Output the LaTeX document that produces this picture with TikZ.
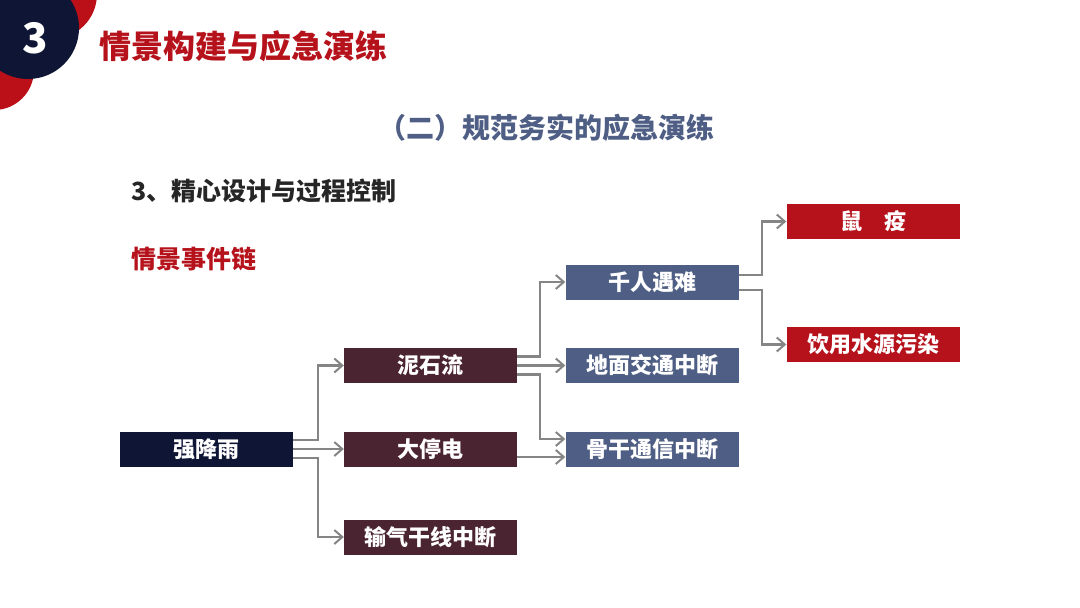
\documentclass[tikz,border=0pt]{standalone}
\usepackage{fontspec}
\setmainfont{Noto Sans CJK SC}
\usetikzlibrary{arrows.meta}
\definecolor{navy}{HTML}{0F1535}
\definecolor{maroon}{HTML}{4A2430}
\definecolor{slate}{HTML}{4E5E84}
\definecolor{alarm}{HTML}{B5121B}
\definecolor{linkgray}{HTML}{858585}
\tikzset{
  event/.style={minimum width=173pt, minimum height=35pt, inner sep=0pt,
    text=white, font=\fontsize{22}{22}\selectfont\bfseries},
  link/.style={draw=linkgray, line width=2.2pt,
    -{Straight Barb[length=8pt,width=14pt,line width=2pt]}}
}
\begin{document}
\begin{tikzpicture}[x=1pt,y=-1pt]
            %page
            \fill[white] (0,0) rectangle (1080,608);
            \useasboundingbox (0,0) rectangle (1080,608);
            %corner badge
            \fill[alarm!90!red] (52,-6) circle [radius=45];
            \fill[alarm!90!red] (-6,70) circle [radius=40];
            \fill[navy] (28,28) circle [radius=51];
            \node[text=white, font=\fontsize{42}{42}\selectfont\bfseries] (badge) at (35,38) {3};
            %titles
            \node[anchor=west, text=alarm, font=\fontsize{32}{32}\selectfont\bfseries] (title) at (96,46) {情景构建与应急演练};
            \node[text=slate, font=\fontsize{28}{28}\selectfont\bfseries] (subtitle) at (546,128) {（二）规范务实的应急演练};
            \node[anchor=west, text=black!85, font=\fontsize{25}{25}\selectfont\bfseries] (step3) at (128,191) {3、精心设计与过程控制};
            \node[anchor=west, text=alarm, font=\fontsize{25}{25}\selectfont\bfseries] (chain) at (128,259) {情景事件链};
            %events
            \node[event, fill=navy] (rain) at (206.5,449) {强降雨};
            \node[event, fill=maroon] (mud) at (430.5,365.5) {泥石流};
            \node[event, fill=maroon] (power) at (430.5,449) {大停电};
            \node[event, fill=maroon] (gas) at (430.5,537) {输气干线中断};
            \node[event, fill=slate] (death) at (652,282) {千人遇难};
            \node[event, fill=slate] (road) at (652,365.5) {地面交通中断};
            \node[event, fill=slate] (comm) at (652,449) {骨干通信中断};
            \node[event, fill=alarm] (plague) at (873,221.5) {鼠\quad 疫};
            \node[event, fill=alarm] (water) at (873,344.5) {饮用水源污染};
            %links
            \draw[link] ([yshift=9pt]rain.east) -- ++(25,0) |- (mud.west);
            \draw[link] (rain.east) -- (power.west);
            \draw[link] ([yshift=-9pt]rain.east) -- ++(25,0) |- (gas.west);
            \draw[link] ([yshift=9pt]mud.east) -- ++(23,0) |- (death.west);
            \draw[link] (mud.east) -- (road.west);
            \draw[link] ([yshift=-9pt]mud.east) -- ++(23,0) |- ([yshift=10pt]comm.west);
            \draw[link] ([yshift=-8pt]power.east) -- ([yshift=-8pt]comm.west);
            \draw[link] ([yshift=7pt]death.east) -- ++(23,0) |- (plague.west);
            \draw[link] ([yshift=-8pt]death.east) -- ++(23,0) |- (water.west);
\end{tikzpicture}
\end{document}
